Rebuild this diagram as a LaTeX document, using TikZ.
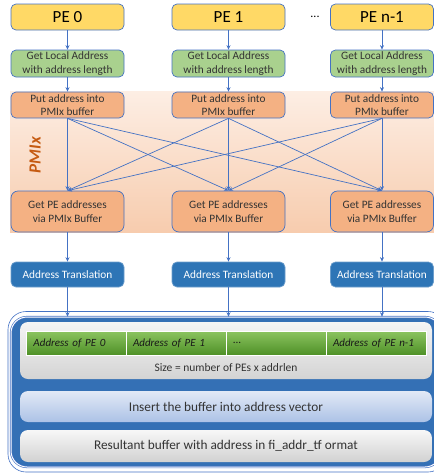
\documentclass[tikz,border=0pt]{standalone}
\usepackage{fontspec}
\setmainfont{Carlito}
\usetikzlibrary{arrows.meta}

\definecolor{peyellow}{HTML}{FFD966}
\definecolor{getgreen}{HTML}{A9D18E}
\definecolor{pmixorange}{HTML}{F4B183}
\definecolor{linkblue}{HTML}{4472C4}
\definecolor{transblue}{HTML}{2E75B6}
\definecolor{vecblue}{HTML}{3470B5}
\definecolor{labelorange}{HTML}{C55A11}
\definecolor{textgray}{HTML}{333333}
\definecolor{celltop}{HTML}{8CC460}
\definecolor{cellbottom}{HTML}{4E9027}

\tikzset{
  stepnode/.style={draw=linkblue, line width=0.7pt, rounded corners=5pt,
    minimum width=113pt, align=center, text=textgray, inner sep=1pt,
    font=\fontsize{11.3}{13.7}\selectfont},
  pebox/.style={stepnode, fill=peyellow, minimum height=26pt, text=black,
    font=\fontsize{17}{20}\selectfont},
  localbox/.style={stepnode, fill=getgreen, minimum height=27pt},
  putbox/.style={stepnode, fill=pmixorange, minimum height=26pt},
  getbox/.style={stepnode, fill=pmixorange, minimum height=41pt, rounded corners=7pt},
  transbox/.style={stepnode, fill=transblue, draw=transblue!70!white, text=white,
    minimum height=25pt},
  lastcol/.style={minimum width=103pt},
  link/.style={linkblue, line width=0.7pt, -{Stealth[length=4.5pt,width=4pt]}},
  addrcell/.style={draw=white, line width=0.8pt, top color=celltop,
    bottom color=cellbottom, minimum height=24pt, text width=86pt,
    inner xsep=7pt, align=left, text=black!90,
    font=\fontsize{11}{12}\itshape},
  vecbox/.style={rounded corners=8pt, minimum width=412pt, text=textgray,
    font=\fontsize{13.3}{15}\selectfont},
}

\begin{document}
\begin{tikzpicture}[x=1pt, y=-1pt]
  \useasboundingbox (0,0) rectangle (434,475);

  % PMIx band behind the exchange
  \shade[top color={rgb,255:red,253;green,238;blue,228},
         bottom color={rgb,255:red,247;green,204;blue,174}]
    (10,91) rectangle (450,232);
  \node[rotate=90, text=labelorange, font=\fontsize{17}{20}\bfseries\itshape]
    (pmix) at (35,155) {PMIx};

  % PEs
  \node[pebox] (pe0) at (67.5,17) {PE 0};
  \node[pebox] (pe1) at (228.5,17) {PE 1};
  \node[pebox, lastcol] (pe2) at (382,17) {PE n-1};
  \node[font=\fontsize{12}{14}\selectfont] (dots) at (315,17) {...};

  % local address
  \node[localbox] (loc0) at (67.5,63.5) {Get Local Address\\with address length};
  \node[localbox] (loc1) at (228.5,63.5) {Get Local Address\\with address length};
  \node[localbox, lastcol] (loc2) at (382,63.5) {Get Local Address\\with address length};

  % put into PMIx
  \node[putbox] (put0) at (67.5,105) {Put address into\\PMIx buffer};
  \node[putbox] (put1) at (228.5,105) {Put address into\\PMIx buffer};
  \node[putbox, lastcol] (put2) at (382,105) {Put address into\\PMIx buffer};

  % get from PMIx
  \node[getbox] (get0) at (67.5,211.5) {Get PE addresses\\via PMIx Buffer};
  \node[getbox] (get1) at (228.5,211.5) {Get PE addresses\\via PMIx Buffer};
  \node[getbox, lastcol] (get2) at (382,211.5) {Get PE addresses\\via PMIx Buffer};

  % translation
  \node[transbox] (tr0) at (67.5,274.5) {Address Translation};
  \node[transbox] (tr1) at (228.5,274.5) {Address Translation};
  \node[transbox, lastcol] (tr2) at (382,274.5) {Address Translation};

  % address vector block
  \draw[linkblue, line width=0.6pt, rounded corners=18pt] (8,311.5) rectangle (446,472);
  \node[fill=vecblue, draw=linkblue, line width=0.6pt, double=white, double distance=1pt,
        rounded corners=16pt, minimum width=430pt, minimum height=150pt]
    (vec) at (226,392) {};
  \node[vecbox, top color=black!4, bottom color=black!17, minimum height=57pt]
    (buf) at (226,350.5) {};
  \node[addrcell] (cell0) at (76.5,343) {Address of PE 0};
  \node[addrcell] (cell1) at (176,343) {Address of PE 1};
  \node[addrcell] (cell2) at (276,343) {...};
  \node[addrcell] (cell3) at (376,343) {Address of PE n-1};
  \node[text=textgray, font=\fontsize{11.5}{13}\selectfont] (size) at (226,368)
    {Size = number of PEs x addrlen};
  \node[vecbox, top color={rgb,255:red,226;green,233;blue,246},
        bottom color={rgb,255:red,172;green,194;blue,230}, minimum height=31pt]
    (insert) at (226,406.5) {Insert the buffer into address vector};
  \node[vecbox, top color=black!3, bottom color=black!18, minimum height=32pt]
    (result) at (226,446) {Resultant buffer with address in fi\_addr\_tf ormat};

  % arrows down each column
  \draw[link] (pe0) -- (loc0);
  \draw[link] (pe1) -- (loc1);
  \draw[link] (pe2) -- (loc2);
  \draw[link] (loc0) -- (put0);
  \draw[link] (loc1) -- (put1);
  \draw[link] (loc2) -- (put2);
  \draw[link] (get0) -- (tr0);
  \draw[link] (get1) -- (tr1);
  \draw[link] (get2) -- (tr2);
  \draw[link] (tr0) -- (tr0 |- vec.north);
  \draw[link] (tr1) -- (tr1 |- vec.north);
  \draw[link] (tr2) -- (tr2 |- vec.north);

  % every PE reads every buffer
  \foreach \i in {0,1,2}
    \foreach \j in {0,1,2}
      \draw[link] (put\i.south) -- (get\j.north);
\end{tikzpicture}
\end{document}
